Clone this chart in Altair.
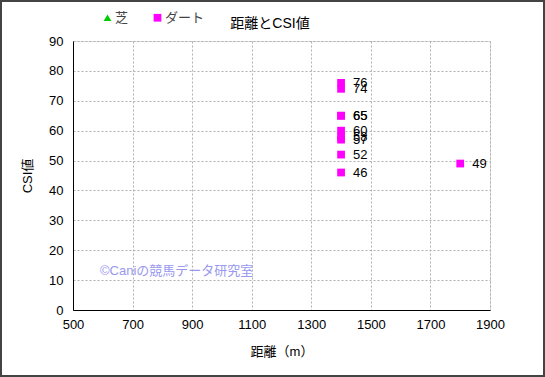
import altair as alt
import pandas as pd

distance = [1400, 1400, 1400, 1400, 1400, 1400, 1400, 1400, 1400, 1800]
csi = [76, 74, 65, 65, 60, 58, 57, 52, 46, 49]
surface = ["ダート"] * 10
legend_domain = ["芝", "ダート"]
legend_colors = ["#00CC00", "#FF00FF"]
legend_shapes = ["triangle-up", "square"]
x_ticks = [500, 700, 900, 1100, 1300, 1500, 1700, 1900]
y_ticks = [0, 10, 20, 30, 40, 50, 60, 70, 80, 90]

df = pd.DataFrame({"distance": distance, "csi": csi, "surface": surface, "label": [str(v) for v in csi]})

FONT = "Liberation Sans, Noto Sans CJK JP"

xscale = alt.Scale(domain=[500, 1900], nice=False)
yscale = alt.Scale(domain=[0, 90], nice=False)

common_axis = dict(grid=True, gridDash=[2, 2], gridColor="#b0b0b0", domainColor="#000000", tickSize=0,
                   labelFontSize=13, titleFontSize=13, titleFontWeight="normal", labelFont=FONT,
                   titleFont=FONT, labelColor="#000", titleColor="#000", labelOverlap=False,
                   labelFlush=False, format="d")

xaxis = alt.Axis(values=x_ticks, labelPadding=8, titlePadding=14, **common_axis)
yaxis = alt.Axis(values=y_ticks, labelPadding=10, titlePadding=14, **common_axis)

pts = alt.Chart(df).mark_point(filled=True, size=60, opacity=1).encode(
    x=alt.X("distance:Q", scale=xscale, title="距離（m）", axis=xaxis),
    y=alt.Y("csi:Q", scale=yscale, title="CSI値", axis=yaxis),
    color=alt.Color("surface:N", scale=alt.Scale(domain=legend_domain, range=legend_colors),
                    legend=alt.Legend(title=None, orient="none", legendX=28, legendY=-30, direction="horizontal",
                                      labelFont=FONT, labelFontSize=13, labelColor="#444", symbolSize=60,
                                      columnPadding=22, symbolStrokeWidth=0, labelOffset=1)),
    shape=alt.Shape("surface:N", scale=alt.Scale(domain=legend_domain, range=legend_shapes), legend=None),
)

labels = alt.Chart(df).mark_text(align="left", dx=12, fontSize=13, font=FONT, color="#000").encode(
    x=alt.X("distance:Q", scale=xscale, title="距離（m）", axis=xaxis),
    y=alt.Y("csi:Q", scale=yscale, title="CSI値", axis=yaxis),
    text="label:N",
)

title = alt.Chart(pd.DataFrame({"t": ["距離とCSI値"]})).mark_text(
    fontSize=14, font=FONT, color="#000", align="center", baseline="middle"
).encode(x=alt.value(197), y=alt.value(-17), text="t:N")

watermark = alt.Chart(pd.DataFrame({"t": ["©Caniの競馬データ研究室"]})).mark_text(
    fontSize=13, font=FONT, color="#9999ee", align="left", baseline="middle"
).encode(x=alt.value(27), y=alt.value(230), text="t:N")

border = alt.Chart(pd.DataFrame({"a": [0]})).mark_rect(
    fill=None, stroke="#444444", strokeWidth=2, clip=False
).encode(x=alt.value(-72), x2=alt.value(471), y=alt.value(-40), y2=alt.value(335))

chart = alt.layer(pts, labels, border, title, watermark).properties(
    width=417, height=269, autosize="none",
    padding={"left": 73, "top": 41, "right": 55, "bottom": 67},
).configure_view(stroke="#888888", strokeWidth=1).configure_axis(labelOverlap=False).configure(background="white")

chart.save("out.html", embed_options={"renderer": "svg", "actions": False})
